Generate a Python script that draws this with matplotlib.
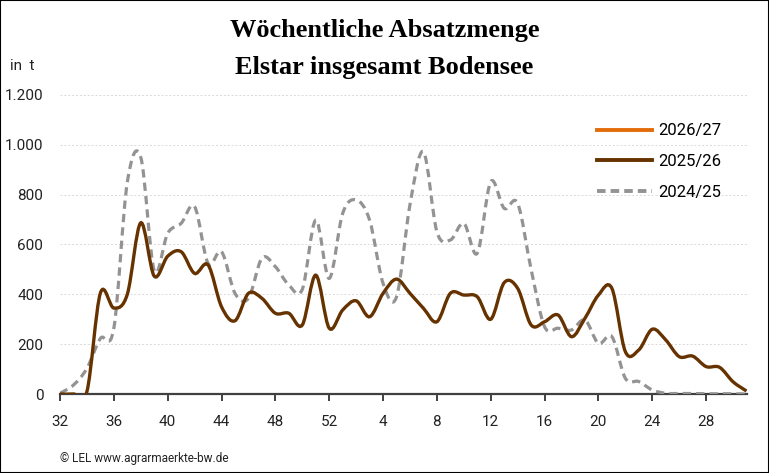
import numpy as np
import matplotlib
matplotlib.use('Agg')
import matplotlib.pyplot as plt
from matplotlib.path import Path
from matplotlib.patches import PathPatch, Rectangle
from matplotlib.lines import Line2D
from matplotlib.ticker import FuncFormatter

# weeks 32..52 then 1..31
weeks = list(range(32, 53)) + list(range(1, 32))

absatz_2025 = [0, 0, 10, 405, 345, 400, 687, 473, 553, 571, 484, 518, 350, 294, 404, 384,
               324, 324, 277, 477, 264, 337, 374, 310, 404, 461, 404, 344, 290, 404, 397, 390,
               300, 447, 424, 277, 290, 317, 230, 304, 397, 424, 170, 177, 260, 217, 150, 152,
               110, 107, 49, 12]
absatz_2024 = [3, 36, 103, 223, 264, 850, 950, 496, 645, 685, 752, 524, 571, 404, 384, 545,
               511, 437, 420, 698, 464, 725, 779, 698, 444, 390, 760, 972, 651, 618, 685, 565,
               852, 745, 765, 500, 270, 264, 257, 297, 203, 230, 63, 50, 16, 3, 2, 2,
               1, 1, 1, 0]

labels = ['2026/27', '2025/26', '2024/25']
colors = ['#E36C0A', '#663300', '#959292']


def smooth_path(y):
    # Bezier path through the points (Excel style smoothed line)
    x = np.arange(len(y), dtype=float)
    y = np.asarray(y, dtype=float)
    pts = np.column_stack([x, y])
    verts = [pts[0]]
    codes = [Path.MOVETO]
    n = len(pts)
    for i in range(n - 1):
        p0 = pts[i - 1] if i > 0 else pts[i]
        p1 = pts[i]
        p2 = pts[i + 1]
        p3 = pts[i + 2] if i + 2 < n else pts[i + 1]
        c1 = p1 + (p2 - p0) / 6.0
        c2 = p2 - (p3 - p1) / 6.0
        verts += [c1, c2, p2]
        codes += [Path.CURVE4] * 3
    return Path(verts, codes)


fig = plt.figure(figsize=(7.69, 4.73), dpi=100)
ax = fig.add_axes([60 / 769, 1 - 394 / 473, 686.5 / 769, 299 / 473])

ax.add_patch(PathPatch(smooth_path(absatz_2024), fill=False, edgecolor=colors[2],
                       lw=2.3, linestyle=(0, (2.6, 1.6)), capstyle='butt', zorder=3))
ax.add_patch(PathPatch(smooth_path(absatz_2025), fill=False, edgecolor=colors[1],
                       lw=2.4, zorder=4))

ax.set_xlim(0, len(weeks) - 1)
ax.set_ylim(0, 1200)
ax.set_yticks(np.arange(0, 1201, 200))
ax.yaxis.set_major_formatter(FuncFormatter(lambda v, p: f'{int(v):,}'.replace(',', '.')))
xt = list(range(0, len(weeks), 4))
ax.set_xticks(xt)
ax.set_xticklabels([str(weeks[i]) for i in xt])

for s in ['top', 'right', 'left']:
    ax.spines[s].set_visible(False)
ax.spines['bottom'].set_color('#404040')
ax.spines['bottom'].set_linewidth(1.6)
ax.tick_params(axis='x', length=5, width=1.4, color='#404040', labelsize=11, pad=10)
ax.tick_params(axis='y', length=0, labelsize=11, pad=12)
ax.grid(axis='y', color='#d9d9d9', linestyle=(0, (2, 2)), lw=0.7)
ax.set_axisbelow(True)
for t in ax.get_xticklabels() + ax.get_yticklabels():
    t.set_fontfamily('Roboto')
    t.set_color('#222222')

handles = [Line2D([], [], color=colors[0], lw=2.8),
           Line2D([], [], color=colors[1], lw=2.8),
           Line2D([], [], color=colors[2], lw=2.8, linestyle=(0, (2.2, 1.3)))]
leg = ax.legend(handles, labels, loc='upper left', bbox_to_anchor=(0.76, 0.955),
                frameon=False, prop={'family': 'Roboto', 'size': 12},
                handlelength=3.3, handletextpad=0.4, labelspacing=0.95)

fig.text(0.5, 1 - 30 / 473, 'Wöchentliche Absatzmenge', ha='center', va='center',
         family='Liberation Serif', weight='bold', fontsize=19)
fig.text(0.5, 1 - 67 / 473, 'Elstar insgesamt Bodensee', ha='center', va='center',
         family='Liberation Serif', weight='bold', fontsize=19)
fig.text(10 / 769, 1 - 66 / 473, 'in  t', ha='left', va='center', family='Roboto',
         fontsize=11, color='#222222')
fig.text(60 / 769, 1 - 458 / 473, '© LEL www.agrarmaerkte-bw.de', ha='left', va='center',
         family='Roboto', fontsize=8.5, color='#222222')

fig.patches.append(Rectangle((0, 0), 1, 1, transform=fig.transFigure, fill=False,
                             edgecolor='black', lw=1.5))

fig.savefig('out.png', dpi=100)
